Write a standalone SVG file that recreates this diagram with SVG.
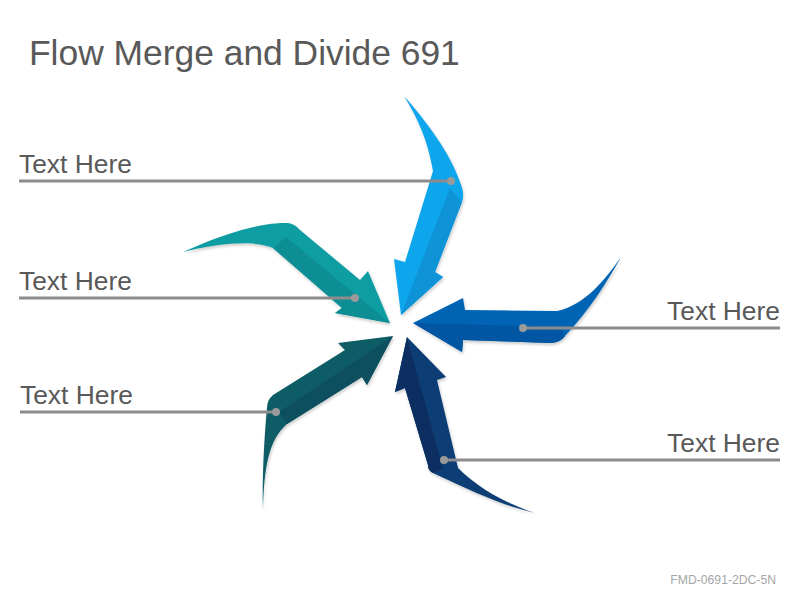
<svg xmlns="http://www.w3.org/2000/svg" width="800" height="600" viewBox="0 0 800 600">
<defs>
<filter id="sh" x="-20%" y="-20%" width="140%" height="140%">
<feDropShadow dx="1" dy="2" stdDeviation="1.5" flood-color="#000" flood-opacity="0.2"/>
</filter>
</defs>
<style>
.t{font-family:"Liberation Sans",Arial,sans-serif;fill:#595959;}
.lbl{font-size:26.4px;}
.ld{stroke:#8C8C8C;stroke-width:3;fill:none;}
.dot{fill:#9A9A9A;}
</style>
<rect width="800" height="600" fill="#fff"/>
<text class="t" x="29" y="65" font-size="35.4">Flow Merge and Divide 691</text>
<text x="776" y="584" font-family="Liberation Sans,Arial,sans-serif" font-size="12.2" fill="#A6A6A6" text-anchor="end">FMD-0691-2DC-5N</text>

<g id="arrow1" filter="url(#sh)">
<path fill="#10A5EC" d="M404,96 C425,120 450,152 460,182 Q465,194 462,202 L435,272 L443,277 L401,315 L394,259 L405,262 L433,171 C428,142 419,120 404,96 Z"/>
<path fill="#0B93D6" d="M450,188 L462,202 L435,272 L443,277 L401,315 Z"/>
</g>
<g id="arrow2" filter="url(#sh)">
<path fill="#0563B4" d="M621,257 C605,280 585,305 557,311 L465,310 L463,298 L413,323 L462,352 L463,340 L550,343 Q560,343 565,336 C588,312 606,284 621,257 Z"/>
<path fill="#0457A3" d="M413,323 L561,327 L565,336 Q560,343 550,343 L463,340 L462,352 Z"/>
</g>
<g id="arrow3" filter="url(#sh)">
<path fill="#0B3D74" d="M407,337 L446,377 L437,380 L458,468 C480,490 510,505 535,513 C500,505 470,490 435,474 Q428,471 428,465 L405,388 L395,392 Z"/>
<path fill="#082F60" d="M407,337 L443,469 L433,473 Q428,471 428,465 L405,388 L395,392 Z"/>
</g>
<g id="arrow4" filter="url(#sh)">
<path fill="#0B5C66" d="M393,336 L338,343 L345,350 L273,395 Q267,400 267,408 C264,440 262,480 263,510 C264,470 268,440 287,424 L362,377 L367,385 Z"/>
<path fill="#0A4F5F" d="M393,336 L279,412 L287,424 L362,377 L367,385 Z"/>
</g>
<g id="arrow5" filter="url(#sh)">
<path fill="#0E9DA2" d="M183,252 C220,235 260,222 288,223 Q295,224 300,230 L360,280 L368,271 L390,323 L335,313 L342,308 L273,248 C255,240 220,243 183,252 Z"/>
<path fill="#0B8E95" d="M286,237 L390,323 L335,313 L342,308 L273,248 Z"/>
</g>

<g id="labels">
<text class="t lbl" x="19" y="173">Text Here</text>
<text class="t lbl" x="19" y="290">Text Here</text>
<text class="t lbl" x="20" y="404">Text Here</text>
<text class="t lbl" x="780" y="320" text-anchor="end">Text Here</text>
<text class="t lbl" x="780" y="452" text-anchor="end">Text Here</text>
</g>

<g id="connectors">
<line class="ld" x1="19" y1="181" x2="451" y2="181"/>
<circle class="dot" cx="451" cy="181" r="4"/>
<line class="ld" x1="19" y1="298" x2="355" y2="298"/>
<circle class="dot" cx="355" cy="298" r="4"/>
<line class="ld" x1="20" y1="412" x2="276" y2="412"/>
<circle class="dot" cx="276" cy="412" r="4"/>
<line class="ld" x1="523" y1="328" x2="780" y2="328"/>
<circle class="dot" cx="523" cy="328" r="4"/>
<line class="ld" x1="444" y1="460" x2="780" y2="460"/>
<circle class="dot" cx="444" cy="460" r="4"/>
</g>
</svg>
